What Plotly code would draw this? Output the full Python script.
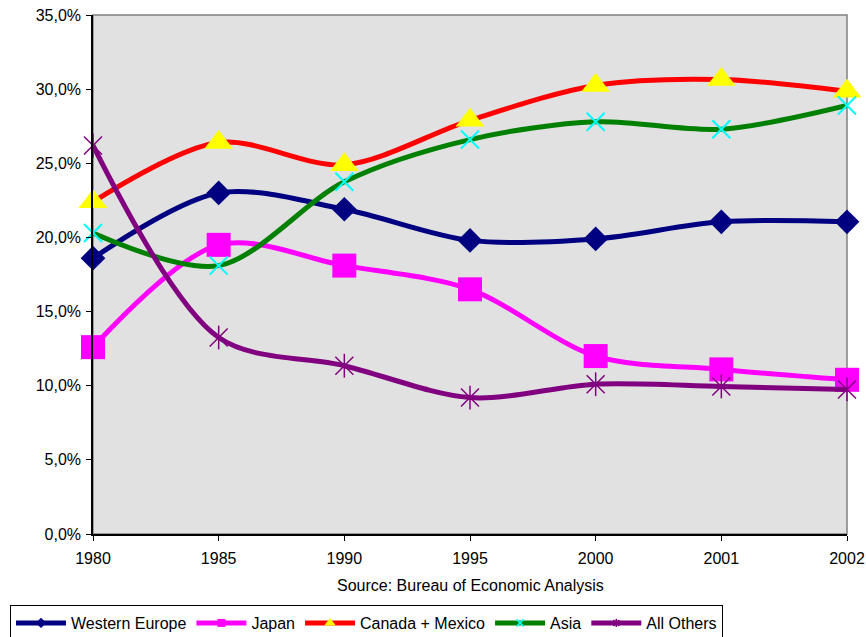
import plotly.graph_objects as go

years = ["1980", "1985", "1990", "1995", "2000", "2001", "2002"]
western_europe = [18.6, 23.0, 21.9, 19.8, 19.9, 21.05, 21.05]
japan = [12.6, 19.5, 18.1, 16.5, 12.0, 11.1, 10.4]
canada_mexico = [22.4, 26.4, 24.9, 27.9, 30.25, 30.65, 29.85]
asia = [20.3, 18.1, 23.75, 26.6, 27.8, 27.3, 28.9]
all_others = [26.2, 13.25, 11.35, 9.2, 10.1, 9.95, 9.75]
y_ticks = [0, 5, 10, 15, 20, 25, 30, 35]
y_tick_labels = ["0,0%", "5,0%", "10,0%", "15,0%", "20,0%", "25,0%", "30,0%", "35,0%"]
source_text = "Source: Bureau of Economic Analysis"

FONT = "Liberation Sans, Arial, sans-serif"
LW = 5

fig = go.Figure()

series = [
    ("Western Europe", western_europe, "#000080", dict(symbol="diamond", size=19, color="#000080", line=dict(width=0))),
    ("Japan", japan, "#FF00FF", dict(symbol="square", size=24, color="#FF00FF", line=dict(width=0))),
    ("Canada + Mexico", canada_mexico, "#FF0000", dict(symbol="triangle-up", size=25, color="#FFFF00", line=dict(width=0))),
    ("Asia", asia, "#008000", dict(symbol="x-thin-open", size=18, color="#00FFFF", line=dict(width=2, color="#00FFFF"))),
    ("All Others", all_others, "#800080", dict(symbol="x-thin-open", size=18, color="#800080", line=dict(width=1.5, color="#800080"))),
]

legend_markers = {
    "Western Europe": dict(symbol="diamond", size=8, color="#000080"),
    "Japan": dict(symbol="square", size=8, color="#FF00FF"),
    "Canada + Mexico": dict(symbol="triangle-up", size=10, color="#FFFF00"),
    "Asia": dict(symbol="x-thin-open", size=7, color="#00FFFF", line=dict(width=1.5, color="#00FFFF")),
    "All Others": dict(symbol="asterisk-open", size=7, color="#800080", line=dict(width=1.5, color="#800080")),
}

for name, vals, col, mk in series:
    fig.add_trace(go.Scatter(
        x=years, y=vals, mode="lines+markers", name=name,
        line=dict(color=col, width=LW, shape="spline", smoothing=0.9),
        marker=mk, cliponaxis=False, showlegend=False,
    ))
    if name == "All Others":
        fig.add_trace(go.Scatter(
            x=years, y=vals, mode="markers", name=name,
            marker=dict(symbol="line-ns-open", size=17, color="#800080",
                        line=dict(width=1.5, color="#800080")),
            cliponaxis=False, showlegend=False,
        ))

for name, vals, col, mk in series:
    fig.add_trace(go.Scatter(
        x=[None], y=[None], mode="lines+markers", name=name,
        line=dict(color=col, width=LW), marker=legend_markers[name],
        showlegend=True,
    ))

fig.update_layout(
    width=866, height=637,
    margin=dict(l=93, r=19, t=15, b=103, autoexpand=False),
    paper_bgcolor="white",
    plot_bgcolor="#E1E1E1",
    font=dict(family=FONT, size=16, color="black"),
    showlegend=True,
    legend=dict(
        orientation="h", xref="container", yref="container",
        x=10 / 866, y=1 - 605 / 637, xanchor="left", yanchor="top",
        bgcolor="white", bordercolor="black", borderwidth=1,
        font=dict(family=FONT, size=16, color="black"),
        itemwidth=50, tracegroupgap=0,
    ),
    xaxis=dict(
        type="category", categoryorder="array", categoryarray=years,
        range=[0, 6], showgrid=False, zeroline=False, automargin=False,
        showline=True, linecolor="black", linewidth=1.5,
        ticks="outside", ticklen=5, tickcolor="black", ticklabelstandoff=4,
        tickfont=dict(family=FONT, size=16, color="black"),
    ),
    yaxis=dict(
        range=[0, 35], tickvals=y_ticks, ticktext=y_tick_labels,
        showgrid=False, zeroline=False, automargin=False,
        showline=True, linecolor="black", linewidth=1.5,
        ticks="outside", ticklen=5, tickcolor="black", ticklabelstandoff=2,
        tickfont=dict(family=FONT, size=16, color="black"),
    ),
    shapes=[dict(type="rect", xref="paper", yref="paper", x0=0, x1=1, y0=0, y1=1,
                 line=dict(color="#808080", width=1.5), layer="below")],
    annotations=[dict(text=source_text, xref="paper", yref="paper", x=0.5, y=-0.0983,
                      xanchor="center", yanchor="middle", showarrow=False,
                      font=dict(family=FONT, size=16, color="black"))],
)

fig.write_html("out.html")
